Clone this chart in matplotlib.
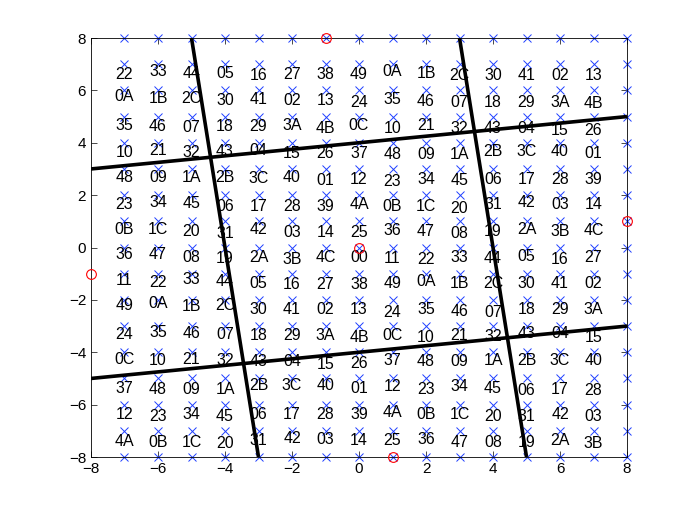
import numpy as np
import matplotlib
matplotlib.use("Agg")
import matplotlib.pyplot as plt

plt.rcParams['font.family'] = ['Liberation Sans', 'DejaVu Sans']

# lattice point positions (blue crosses)
grid_x = np.arange(-7, 9)
grid_y = np.arange(-8, 9)

# labels on interior points, rows from y=7 down to y=-7, columns x=-7..7
label_x = list(range(-7, 8))
label_y = list(range(7, -8, -1))
label_rows = [
    "22 33 44 05 16 27 38 49 0A 1B 2C 30 41 02 13",
    "0A 1B 2C 30 41 02 13 24 35 46 07 18 29 3A 4B",
    "35 46 07 18 29 3A 4B 0C 10 21 32 43 04 15 26",
    "10 21 32 43 04 15 26 37 48 09 1A 2B 3C 40 01",
    "48 09 1A 2B 3C 40 01 12 23 34 45 06 17 28 39",
    "23 34 45 06 17 28 39 4A 0B 1C 20 31 42 03 14",
    "0B 1C 20 31 42 03 14 25 36 47 08 19 2A 3B 4C",
    "36 47 08 19 2A 3B 4C 00 11 22 33 44 05 16 27",
    "11 22 33 44 05 16 27 38 49 0A 1B 2C 30 41 02",
    "49 0A 1B 2C 30 41 02 13 24 35 46 07 18 29 3A",
    "24 35 46 07 18 29 3A 4B 0C 10 21 32 43 04 15",
    "0C 10 21 32 43 04 15 26 37 48 09 1A 2B 3C 40",
    "37 48 09 1A 2B 3C 40 01 12 23 34 45 06 17 28",
    "12 23 34 45 06 17 28 39 4A 0B 1C 20 31 42 03",
    "4A 0B 1C 20 31 42 03 14 25 36 47 08 19 2A 3B",
]
# how far each label sits below its point
label_drop = [
    [0.39, 0.29, 0.37, 0.36, 0.45, 0.39, 0.39, 0.39, 0.27, 0.37, 0.42, 0.45, 0.42, 0.42, 0.45],
    [0.25, 0.32, 0.32, 0.38, 0.34, 0.38, 0.38, 0.45, 0.34, 0.42, 0.45, 0.45, 0.45, 0.45, 0.50],
    [0.34, 0.37, 0.41, 0.37, 0.37, 0.34, 0.45, 0.34, 0.45, 0.34, 0.47, 0.47, 0.45, 0.53, 0.53],
    [0.36, 0.29, 0.36, 0.33, 0.29, 0.42, 0.42, 0.42, 0.46, 0.46, 0.46, 0.33, 0.33, 0.33, 0.42],
    [0.33, 0.34, 0.33, 0.34, 0.35, 0.34, 0.45, 0.39, 0.49, 0.39, 0.46, 0.42, 0.39, 0.42, 0.39],
    [0.37, 0.27, 0.31, 0.43, 0.43, 0.43, 0.43, 0.37, 0.43, 0.43, 0.50, 0.37, 0.28, 0.37, 0.37],
    [0.33, 0.33, 0.39, 0.46, 0.33, 0.43, 0.43, 0.43, 0.36, 0.39, 0.48, 0.39, 0.33, 0.39, 0.36],
    [0.28, 0.28, 0.37, 0.41, 0.37, 0.45, 0.37, 0.37, 0.41, 0.45, 0.37, 0.41, 0.34, 0.45, 0.37],
    [0.27, 0.34, 0.24, 0.31, 0.37, 0.43, 0.43, 0.43, 0.39, 0.31, 0.39, 0.39, 0.37, 0.37, 0.37],
    [0.23, 0.15, 0.25, 0.23, 0.38, 0.38, 0.38, 0.36, 0.48, 0.38, 0.45, 0.48, 0.36, 0.36, 0.36],
    [0.33, 0.24, 0.29, 0.33, 0.37, 0.37, 0.37, 0.42, 0.37, 0.42, 0.37, 0.39, 0.29, 0.29, 0.42],
    [0.27, 0.32, 0.27, 0.32, 0.36, 0.36, 0.45, 0.42, 0.32, 0.36, 0.36, 0.32, 0.32, 0.32, 0.32],
    [0.37, 0.41, 0.41, 0.41, 0.28, 0.28, 0.28, 0.37, 0.31, 0.41, 0.31, 0.37, 0.46, 0.43, 0.46],
    [0.36, 0.46, 0.39, 0.46, 0.39, 0.39, 0.39, 0.39, 0.31, 0.39, 0.39, 0.46, 0.46, 0.39, 0.46],
    [0.41, 0.45, 0.45, 0.50, 0.37, 0.28, 0.34, 0.37, 0.37, 0.32, 0.45, 0.45, 0.45, 0.37, 0.47],
]

# thick boundary lines (x0, y0, x1, y1)
lines = [
    (-5, 8, -3, -8),
    (3, 8, 5, -8),
    (-8, 3, 8, 5),
    (-8, -5, 8, -3),
]

# red circles
circle_x = [-1, 0, 1, 8, -8]
circle_y = [8, 0, -8, 1, -1]

fig = plt.figure(figsize=(6.92, 5.15), dpi=100)
ax = fig.add_axes([0.1315, 0.1126, 0.7746, 0.8136])

gx, gy = np.meshgrid(grid_x, grid_y)
ax.plot(gx.ravel(), gy.ravel(), 'x', color='#1f3fff', markersize=6,
        markeredgewidth=0.7, linestyle='none', clip_on=False, zorder=2)

for row, drops, yv in zip(label_rows, label_drop, label_y):
    for lab, d, xv in zip(row.split(), drops, label_x):
        ax.text(xv, yv - d, lab, ha='center', va='center', fontsize=11.5,
                color='black', zorder=3)

for x0, y0, x1, y1 in lines:
    ax.plot([x0, x1], [y0, y1], color='black', linewidth=2.6, zorder=4,
            solid_capstyle='butt')

ax.plot(circle_x, circle_y, 'o', markerfacecolor='none', markeredgecolor='red',
        markersize=7, markeredgewidth=0.8, linestyle='none', clip_on=False, zorder=5)

ax.set_xlim(-8, 8)
ax.set_ylim(-8, 8)
ax.set_xticks(np.arange(-8, 9, 2))
ax.set_yticks(np.arange(-8, 9, 2))
ax.tick_params(direction='in', top=True, right=True, labelsize=11, length=4, width=0.5)
for s in ax.spines.values():
    s.set_linewidth(0.6)

fig.savefig("out.png", dpi=100)
